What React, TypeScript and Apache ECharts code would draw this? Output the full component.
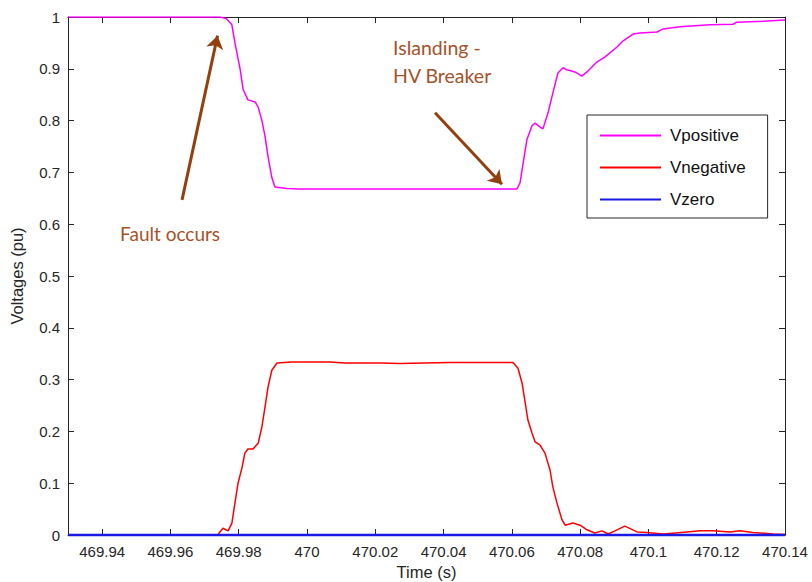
import React, { useEffect, useRef } from "react";
import * as echarts from "echarts";

// Axis ticks
const timeTicks = [469.94, 469.96, 469.98, 470, 470.02, 470.04, 470.06, 470.08, 470.1, 470.12, 470.14];
const timeMin = 469.93;
const timeMax = 470.14;

// Positive-sequence voltage (pu)
const vposTime = [
  469.93, 469.9745, 469.9763, 469.9774, 469.978, 469.9789, 469.9804, 469.9813, 469.9827, 469.9848,
  469.9857, 469.9868, 469.9877, 469.9886, 469.9897, 469.9906, 469.9941, 469.9979, 470.03, 470.0615,
  470.0624, 470.0633, 470.0644, 470.0659, 470.0668, 470.0682, 470.0691, 470.0706, 470.072, 470.0735,
  470.075, 470.0761, 470.0785, 470.0805, 470.082, 470.0849, 470.0873, 470.0908, 470.0926, 470.0955,
  470.0975, 470.1025, 470.1043, 470.1092, 470.118, 470.1248, 470.1259, 470.1336, 470.14,
];
const vposValue = [
  1.0, 1.0, 0.997, 0.99, 0.985, 0.95, 0.9, 0.86, 0.84, 0.836,
  0.826, 0.8, 0.77, 0.73, 0.69, 0.672, 0.669, 0.668, 0.668, 0.668,
  0.68, 0.718, 0.763, 0.79, 0.795, 0.788, 0.784, 0.815, 0.853, 0.892,
  0.902, 0.898, 0.894, 0.886, 0.894, 0.913, 0.923, 0.942, 0.954, 0.967,
  0.969, 0.971, 0.977, 0.981, 0.985, 0.986, 0.99, 0.992, 0.994,
];

// Negative-sequence voltage (pu)
const vnegTime = [
  469.93, 469.9739, 469.9745, 469.9754, 469.9769, 469.978, 469.9789, 469.9798, 469.981, 469.9818,
  469.9827, 469.9842, 469.9857, 469.9868, 469.9877, 469.9886, 469.9897, 469.9912, 469.9956, 470.0067,
  470.0111, 470.0214, 470.0272, 470.0419, 470.0603, 470.0618, 470.063, 470.0638, 470.0647, 470.0659,
  470.0668, 470.0682, 470.0697, 470.0712, 470.072, 470.0732, 470.0747, 470.0756, 470.0779, 470.08,
  470.082, 470.0843, 470.0864, 470.0882, 470.0902, 470.0931, 470.0967, 470.0996, 470.1043, 470.1113,
  470.1151, 470.1189, 470.1239, 470.1268, 470.1306, 470.1365, 470.14,
];
const vnegValue = [
  0, 0, 0.006, 0.013, 0.008, 0.023, 0.062, 0.1, 0.131, 0.158,
  0.166, 0.166, 0.177, 0.209, 0.247, 0.286, 0.318, 0.332, 0.334, 0.334,
  0.332, 0.332, 0.331, 0.333, 0.333, 0.322, 0.293, 0.26, 0.222, 0.197,
  0.18, 0.174, 0.158, 0.125, 0.093, 0.062, 0.029, 0.019, 0.023, 0.019,
  0.01, 0.004, 0.008, 0.002, 0.008, 0.017, 0.006, 0.005, 0.002, 0.006,
  0.008, 0.008, 0.006, 0.008, 0.005, 0.002, 0.001,
];

// Zero-sequence voltage (pu)
const vzeroTime = [469.93, 469.98, 470.03, 470.08, 470.14];
const vzeroValue = [0, 0, 0, 0, 0];

// Annotation arrows: [tailTime, tailValue, headTime, headValue]
const faultArrow = [469.9634, 0.647, 469.9738, 0.964];
const islandArrow = [470.0375, 0.815, 470.0571, 0.677];
// Annotation text anchors: [time, value]
const faultLabelAt = [469.9599, 0.583];
const islandLabelAt = [470.0252, 0.915];

const pairs = (t: number[], v: number[]) => t.map((x, i) => [x, v[i]]);

const AXIS_COLOR = "#262626";
const NOTE_TEXT = "#a5532b";
const NOTE_ARROW = "#93400f";
const FONT = "Liberation Sans, Arial, sans-serif";
const NOTE_FONT = "Lato, Open Sans, sans-serif";

function buildOption() {
  const xBase = {
    type: "value" as const,
    min: timeMin,
    max: timeMax,
    splitLine: { show: false },
    axisLine: { show: true, onZero: false, lineStyle: { color: AXIS_COLOR, width: 1 } },
    axisTick: { show: true, inside: true, length: 6, customValues: timeTicks, lineStyle: { color: AXIS_COLOR } },
  };
  const yBase = {
    type: "value" as const,
    min: 0,
    max: 1,
    interval: 0.1,
    splitLine: { show: false },
    axisLine: { show: true, onZero: false, lineStyle: { color: AXIS_COLOR, width: 1 } },
    axisTick: { show: true, inside: true, length: 6, lineStyle: { color: AXIS_COLOR } },
  };
  const arrowLine = (a: number[]) => [
    { coord: [a[0], a[1]], lineStyle: { color: NOTE_ARROW, width: 3, type: "solid" } },
    { coord: [a[2], a[3]] },
  ];
  return {
    animation: false,
    backgroundColor: "#ffffff",
    grid: { left: 68, right: 27, top: 17, bottom: 47, outerBoundsMode: "none", containLabel: false },
    xAxis: [
      {
        ...xBase,
        position: "bottom",
        name: "Time (s)",
        nameLocation: "middle",
        nameGap: 28,
        nameTextStyle: { fontFamily: FONT, fontSize: 16.5, color: AXIS_COLOR },
        axisLabel: {
          customValues: timeTicks,
          margin: 9,
          fontFamily: FONT,
          fontSize: 15,
          color: AXIS_COLOR,
          formatter: (v: number) => String(+v.toFixed(2)),
        },
      },
      { ...xBase, position: "top", axisLabel: { show: false } },
    ],
    yAxis: [
      {
        ...yBase,
        position: "left",
        name: "Voltages (pu)",
        nameLocation: "middle",
        nameGap: 43,
        nameTextStyle: { fontFamily: FONT, fontSize: 16.5, color: AXIS_COLOR },
        axisLabel: {
          margin: 8,
          fontFamily: FONT,
          fontSize: 15,
          color: AXIS_COLOR,
          formatter: (v: number) => String(+v.toFixed(1)),
        },
      },
      { ...yBase, position: "right", axisLabel: { show: false } },
    ],
    legend: {
      data: ["Vpositive", "Vnegative", "Vzero"],
      orient: "vertical",
      left: 587,
      top: 115,
      backgroundColor: "#ffffff",
      borderColor: AXIS_COLOR,
      borderWidth: 1,
      borderRadius: 0,
      padding: [12, 22, 10, 13],
      itemGap: 15,
      itemWidth: 61,
      itemHeight: 2,
      icon: "rect",
      textStyle: { fontFamily: FONT, fontSize: 17, color: "#111", lineHeight: 17, padding: [0, 0, 0, 4] },
      selectedMode: false,
    },
    series: [
      {
        name: "Vpositive",
        type: "line",
        data: pairs(vposTime, vposValue),
        showSymbol: false,
        symbol: "none",
        lineStyle: { color: "#ff00ff", width: 1.5 },
        itemStyle: { color: "#ff00ff" },
        clip: true,
        z: 3,
        markLine: {
          silent: true,
          symbol: ["none", "arrow"],
          symbolSize: 13,
          label: { show: false },
          data: [arrowLine(faultArrow), arrowLine(islandArrow)],
        },
        markPoint: {
          silent: true,
          symbol: "circle",
          symbolSize: 1,
          itemStyle: { color: "rgba(0,0,0,0)" },
          data: [
            {
              coord: faultLabelAt,
              label: {
                show: true,
                position: "inside",
                formatter: "Fault occurs",
                fontFamily: NOTE_FONT,
                fontSize: 19,
                color: NOTE_TEXT,
              },
            },
            {
              coord: islandLabelAt,
              label: {
                show: true,
                position: "inside",
                align: "left",
                lineHeight: 28,
                formatter: "Islanding -\nHV Breaker",
                fontFamily: NOTE_FONT,
                fontSize: 19.5,
                color: NOTE_TEXT,
              },
            },
          ],
        },
      },
      {
        name: "Vnegative",
        type: "line",
        data: pairs(vnegTime, vnegValue),
        showSymbol: false,
        symbol: "none",
        lineStyle: { color: "#ff0000", width: 1.5 },
        itemStyle: { color: "#ff0000" },
        clip: true,
        z: 3,
      },
      {
        name: "Vzero",
        type: "line",
        data: pairs(vzeroTime, vzeroValue),
        showSymbol: false,
        symbol: "none",
        lineStyle: { color: "#1a1ae6", width: 2.5 },
        itemStyle: { color: "#1a1ae6" },
        clip: false,
        z: 4,
      },
    ],
  };
}

export default function App() {
  const ref = useRef<HTMLDivElement>(null);
  useEffect(() => {
    if (!ref.current) return;
    const chart = echarts.init(ref.current, null, { renderer: "svg" });
    chart.setOption(buildOption() as any);
    return () => chart.dispose();
  }, []);
  return (
    <div
      ref={ref}
      style={{ position: "fixed", left: 0, top: 0, width: 812, height: 582, background: "#fff" }}
    />
  );
}
